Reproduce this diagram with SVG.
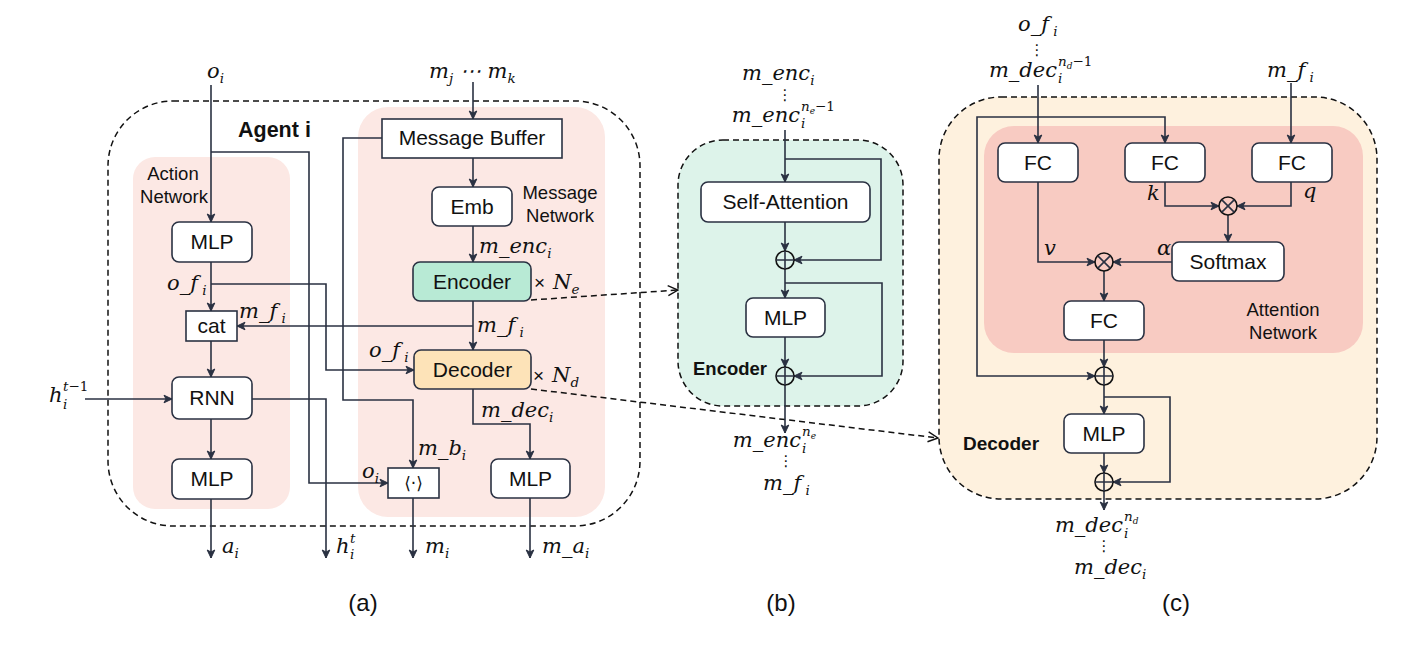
<svg xmlns="http://www.w3.org/2000/svg" width="1427" height="649" viewBox="0 0 1427 649">
<defs>
<marker id="ah" viewBox="0 0 10 10" refX="9" refY="5" markerWidth="10" markerHeight="10" markerUnits="userSpaceOnUse" orient="auto"><path d="M1,1.2 L9,5 L1,8.8 L3,5 Z" fill="#2a3142" stroke="#2a3142" stroke-width="1" stroke-linejoin="round"/></marker>
<marker id="oh" viewBox="0 0 12 12" refX="11" refY="6" markerWidth="12" markerHeight="12" markerUnits="userSpaceOnUse" orient="auto"><path d="M1,1 L11,6 L1,11" fill="none" stroke="#111" stroke-width="1.4"/></marker>
<style>
.ln{fill:none;stroke:#2a3142;stroke-width:1.6;marker-end:url(#ah)}
.lp{fill:none;stroke:#2a3142;stroke-width:1.6}
.dsh{fill:none;stroke:#111;stroke-width:1.5;stroke-dasharray:6 4}
.da{fill:none;stroke:#111;stroke-width:1.5;stroke-dasharray:6 4;marker-end:url(#oh)}
.box{fill:#fff;stroke:#2a3142;stroke-width:1.6}
.t{font-family:"Liberation Sans",Arial,sans-serif;font-size:21px;fill:#111;text-anchor:middle}
.lb{font-family:"Liberation Sans",Arial,sans-serif;font-size:18.5px;fill:#111;text-anchor:middle}
.bd{font-family:"Liberation Sans",Arial,sans-serif;font-weight:bold;fill:#111}
.m{font-family:"DejaVu Serif",serif;font-style:italic;font-size:21px;fill:#111}
.s{font-size:13.5px}
.ss{font-family:"DejaVu Serif",serif;font-style:italic;font-size:13.5px;fill:#111}
.dot{font-family:"DejaVu Sans",sans-serif;font-size:15px;fill:#111;text-anchor:middle}
.cp{font-family:"Liberation Sans",Arial,sans-serif;font-size:24px;fill:#111;text-anchor:middle}
.op{fill:#fff;fill-opacity:0;stroke:#111;stroke-width:1.6}
</style>
</defs>

<!-- Panel backgrounds -->
<g id="agent-panel">
<rect class="dsh" x="108" y="101" width="532" height="425" rx="65"/>
<text class="bd" x="238" y="137" font-size="21.5px">Agent i</text>
</g>
<g id="action-network">
<rect x="133" y="157" width="157" height="352" rx="22" fill="#fce8e4"/>
<text class="lb" x="173" y="180">Action</text>
<text class="lb" x="174" y="203">Network</text>
</g>
<g id="message-network">
<rect x="358" y="107" width="247" height="410" rx="30" fill="#fce8e4"/>
<text class="lb" x="560" y="199">Message</text>
<text class="lb" x="560" y="222">Network</text>
</g>
<g id="encoder-panel">
<rect x="678" y="140" width="225" height="266" rx="45" fill="#ddf3ea" stroke="#111" stroke-width="1.5" stroke-dasharray="6 4"/>
<text class="bd" x="693" y="375" font-size="18.5px">Encoder</text>
</g>
<g id="decoder-panel">
<rect x="939" y="97" width="438" height="402" rx="62" fill="#fef1de" stroke="#111" stroke-width="1.5" stroke-dasharray="6 4"/>
<text class="bd" x="963" y="450" font-size="19px">Decoder</text>
</g>
<g id="attention-network">
<rect x="984" y="126" width="379" height="227" rx="30" fill="#f8cbc2"/>
<text class="lb" x="1283" y="316">Attention</text>
<text class="lb" x="1283" y="339">Network</text>
</g>

<!-- Connectors -->
<g id="connectors">
<path class="ln" d="M211,85 V222"/>
<path class="ln" d="M211,152 H309 V483 H388"/>
<path class="ln" d="M211,262 V311"/>
<path class="ln" d="M211,284 H326 V370 H414"/>
<path class="ln" d="M211,341 V377"/>
<path class="ln" d="M85,399 H172"/>
<path class="ln" d="M252,399 H326 V558"/>
<path class="ln" d="M211,419 V459"/>
<path class="ln" d="M211,499 V558"/>
<path class="ln" d="M473,82 V119"/>
<path class="ln" d="M473,158 V187"/>
<path class="ln" d="M473,226 V262"/>
<path class="ln" d="M473,301 V350"/>
<path class="ln" d="M473,326 H237"/>
<path class="ln" d="M382,138 H343 V400 H413 V468"/>
<path class="ln" d="M473,389 V424 H530 V459"/>
<path class="ln" d="M413,498 V558"/>
<path class="ln" d="M530,498 V558"/>
<path class="da" d="M531,300 L678,290"/>
<path class="da" d="M531,389 L938,438"/>
<!-- (b) -->
<path class="ln" d="M785,130 V182"/>
<path class="ln" d="M785,159 H881 V260 H794"/>
<path class="ln" d="M785,222 V251"/>
<path class="ln" d="M785,269 V298"/>
<path class="ln" d="M785,283 H882 V376 H794"/>
<path class="ln" d="M785,337 V367"/>
<path class="ln" d="M785,385 V433"/>
<!-- (c) -->
<path class="ln" d="M1038,85 V143"/>
<path class="ln" d="M1038,117 H977 V376 H1095"/>
<path class="ln" d="M1038,117 H1165 V143"/>
<path class="ln" d="M1291,83 V143"/>
<path class="ln" d="M1165,182 V206 H1219"/>
<path class="ln" d="M1291,182 V206 H1237"/>
<path class="ln" d="M1228,215 V242"/>
<path class="ln" d="M1172,262 H1113"/>
<path class="ln" d="M1038,182 V262 H1095"/>
<path class="ln" d="M1104,271 V301"/>
<path class="ln" d="M1104,340 V367"/>
<path class="ln" d="M1104,385 V414"/>
<path class="ln" d="M1104,397 H1170 V482 H1113"/>
<path class="ln" d="M1104,453 V473"/>
<path class="ln" d="M1104,491 V510"/>
</g>

<!-- Nodes (a) -->
<g id="mlp-obs"><rect class="box" x="172" y="222" width="80" height="40" rx="7"/><text class="t" x="212" y="249">MLP</text></g>
<g id="cat"><rect class="box" x="186" y="311" width="51" height="30"/><text class="t" x="211.5" y="333" font-size="19px">cat</text></g>
<g id="rnn"><rect class="box" x="172" y="377" width="80" height="42" rx="7"/><text class="t" x="212" y="405">RNN</text></g>
<g id="mlp-act"><rect class="box" x="172" y="459" width="80" height="40" rx="7"/><text class="t" x="212" y="486">MLP</text></g>
<g id="message-buffer"><rect class="box" x="382" y="119" width="180" height="39"/><text class="t" x="472" y="145" font-size="19px">Message Buffer</text></g>
<g id="emb"><rect class="box" x="432" y="187" width="80" height="39" rx="7"/><text class="t" x="472" y="214">Emb</text></g>
<g id="encoder"><rect x="413" y="262" width="118" height="39" rx="7" fill="#b8ead5" stroke="#2a3142" stroke-width="1.6"/><text class="t" x="472" y="289">Encoder</text></g>
<g id="decoder"><rect x="414" y="350" width="117" height="39" rx="7" fill="#fde3b8" stroke="#2a3142" stroke-width="1.6"/><text class="t" x="472.5" y="377">Decoder</text></g>
<g id="inner-product"><rect class="box" x="388" y="468" width="51" height="30"/><text x="413.5" y="489" font-family="DejaVu Sans, sans-serif" font-size="17px" text-anchor="middle" fill="#111">⟨·⟩</text></g>
<g id="mlp-msg"><rect class="box" x="491" y="459" width="79" height="39" rx="7"/><text class="t" x="530.5" y="486">MLP</text></g>

<!-- Nodes (b) -->
<g id="self-attention"><rect class="box" x="701" y="182" width="169" height="40" rx="7"/><text class="t" x="785.5" y="209">Self-Attention</text></g>
<g id="enc-add1"><circle class="op" cx="785" cy="260" r="9"/><path class="lp" d="M776,260 H794 M785,251 V269"/></g>
<g id="enc-mlp"><rect class="box" x="746" y="298" width="79" height="39" rx="7"/><text class="t" x="785.5" y="325">MLP</text></g>
<g id="enc-add2"><circle class="op" cx="785" cy="376" r="9"/><path class="lp" d="M776,376 H794 M785,367 V385"/></g>

<!-- Nodes (c) -->
<g id="fc-v"><rect class="box" x="998" y="143" width="80" height="39" rx="7"/><text class="t" x="1038" y="170">FC</text></g>
<g id="fc-k"><rect class="box" x="1125" y="143" width="80" height="39" rx="7"/><text class="t" x="1165" y="170">FC</text></g>
<g id="fc-q"><rect class="box" x="1252" y="143" width="80" height="39" rx="7"/><text class="t" x="1292" y="170">FC</text></g>
<g id="mul-qk"><circle class="op" cx="1228" cy="206" r="9"/><path class="lp" d="M1221.6,199.6 L1234.4,212.4 M1234.4,199.6 L1221.6,212.4"/></g>
<g id="softmax"><rect class="box" x="1172" y="242" width="112" height="39" rx="7"/><text class="t" x="1228" y="269">Softmax</text></g>
<g id="mul-av"><circle class="op" cx="1104" cy="262" r="9"/><path class="lp" d="M1097.6,255.6 L1110.4,268.4 M1110.4,255.6 L1097.6,268.4"/></g>
<g id="fc-out"><rect class="box" x="1064" y="301" width="80" height="39" rx="7"/><text class="t" x="1104" y="328">FC</text></g>
<g id="dec-add1"><circle class="op" cx="1104" cy="376" r="9"/><path class="lp" d="M1095,376 H1113 M1104,367 V385"/></g>
<g id="dec-mlp"><rect class="box" x="1064" y="414" width="80" height="39" rx="7"/><text class="t" x="1104" y="441">MLP</text></g>
<g id="dec-add2"><circle class="op" cx="1104" cy="482" r="9"/><path class="lp" d="M1095,482 H1113 M1104,473 V491"/></g>

<!-- Labels (a) -->
<g id="labels-a">
<text class="m" x="207" y="78">o<tspan class="s" dy="5">i</tspan></text>
<text class="m" x="429" y="78">m<tspan class="s" dy="5">j</tspan><tspan dy="-5"> ⋯ m</tspan><tspan class="s" dy="5">k</tspan></text>
<text class="m" x="167" y="290">o_f<tspan class="s" dy="5"> i</tspan></text>
<text class="m" x="239" y="318">m_f<tspan class="s" dy="5"> i</tspan></text>
<text class="m" x="49" y="402">h</text><text class="ss" x="63" y="409">i</text><text class="ss" x="63" y="391">t<tspan font-style="normal">−1</tspan></text>
<text class="m" x="222" y="553">a<tspan class="s" dy="5">i</tspan></text>
<text class="m" x="336" y="553">h</text><text class="ss" x="350" y="559">i</text><text class="ss" x="350" y="543">t</text>
<text class="m" x="425" y="553">m<tspan class="s" dy="5">i</tspan></text>
<text class="m" x="542" y="553">m_a<tspan class="s" dy="5">i</tspan></text>
<text class="m" x="418" y="455">m_b<tspan class="s" dy="5">i</tspan></text>
<text class="m" x="362" y="478">o<tspan class="s" dy="5">i</tspan></text>
<text class="m" x="369" y="357">o_f<tspan class="s" dy="5"> i</tspan></text>
<text class="m" x="477" y="332">m_f<tspan class="s" dy="5"> i</tspan></text>
<text class="m" x="479" y="253">m_enc<tspan class="s" dy="5">i</tspan></text>
<text class="m" x="481" y="417">m_dec<tspan class="s" dy="5">i</tspan></text>
<text x="534" y="289" font-family="Liberation Sans, Arial, sans-serif" font-size="19px" fill="#111">×</text>
<text class="m" x="553" y="289">N<tspan class="s" dy="5">e</tspan></text>
<text x="533" y="382" font-family="Liberation Sans, Arial, sans-serif" font-size="19px" fill="#111">×</text>
<text class="m" x="552" y="382">N<tspan class="s" dy="5">d</tspan></text>
<text class="cp" x="363" y="611">(a)</text>
</g>

<!-- Labels (b) -->
<g id="labels-b">
<text class="m" x="742" y="80">m_enc<tspan class="s" dy="5">i</tspan></text>
<text class="dot" x="785" y="100">⋮</text>
<text class="m" x="800" y="122" text-anchor="end">m_enc</text><text class="ss" x="801" y="128">i</text><text class="ss" x="801" y="111">n<tspan font-size="9px" dy="3">e</tspan><tspan font-style="normal" dy="-3">−1</tspan></text>
<text class="m" x="801" y="447" text-anchor="end">m_enc</text><text class="ss" x="802" y="453">i</text><text class="ss" x="802" y="436">n<tspan font-size="9px" dy="3">e</tspan></text>
<text class="dot" x="786" y="466">⋮</text>
<text class="m" x="763" y="490">m_f<tspan class="s" dy="5"> i</tspan></text>
<text class="cp" x="781" y="611">(b)</text>
</g>

<!-- Labels (c) -->
<g id="labels-c">
<text class="m" x="1018" y="31">o_f<tspan class="s" dy="5"> i</tspan></text>
<text class="dot" x="1037" y="55">⋮</text>
<text class="m" x="1057" y="77" text-anchor="end">m_dec</text><text class="ss" x="1058" y="83">i</text><text class="ss" x="1058" y="66">n<tspan font-size="9px" dy="3">d</tspan><tspan font-style="normal" dy="-3">−1</tspan></text>
<text class="m" x="1267" y="77">m_f<tspan class="s" dy="5"> i</tspan></text>
<text class="m" x="1147" y="200">k</text>
<text class="m" x="1303" y="198">q</text>
<text class="m" x="1044" y="255">v</text>
<text class="m" x="1157" y="255">α</text>
<text class="m" x="1123" y="532" text-anchor="end">m_dec</text><text class="ss" x="1124" y="538">i</text><text class="ss" x="1124" y="521">n<tspan font-size="9px" dy="3">d</tspan></text>
<text class="dot" x="1104" y="551">⋮</text>
<text class="m" x="1074" y="574">m_dec<tspan class="s" dy="5">i</tspan></text>
<text class="cp" x="1176" y="611">(c)</text>
</g>
</svg>
